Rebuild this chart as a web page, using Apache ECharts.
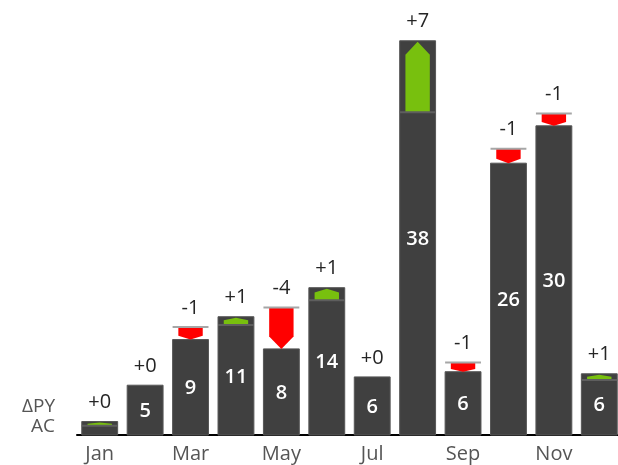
<!DOCTYPE html>
<html>
<head>
<meta charset="utf-8">
<script src="https://cdn.jsdelivr.net/npm/echarts@6/dist/echarts.min.js"></script>
<style>html,body{margin:0;padding:0;background:#fff;overflow:hidden;}#c{width:622px;height:465px;}</style>
</head>
<body>
<div id="c"></div>
<script>
const months = ['Jan','Feb','Mar','Apr','May','Jun','Jul','Aug','Sep','Oct','Nov','Dec'];
const acValues = [1.3, 4.8, 9.2, 11.4, 8.3, 14.2, 5.6, 38.0, 6.1, 26.2, 29.8, 5.9];
const pyValues = [0.9, 4.8, 10.4, 10.6, 12.3, 13.0, 5.6, 31.1, 7.0, 27.6, 31.0, 5.3];
const rowLabels = ['ΔPY', 'AC'];

const FONT = '"Open Sans", "Noto Sans", sans-serif';
const chart = echarts.init(document.getElementById('c'), null, {renderer: 'canvas'});

function deltaText(d) {
  const r = Math.round(d);
  return (r < 0 ? '' : '+') + r;
}

function renderItem(params, api) {
  const i = api.value(0), ac = api.value(1), py = api.value(2);
  const pBase = api.coord([i, 0]);
  const pAC = api.coord([i, ac]);
  const pPY = api.coord([i, py]);
  const band = api.size([1, 0])[0];
  const bw = band * 0.79;
  const aw = bw * 0.68;
  const cx = pBase[0];
  const yAC = pAC[1], yPY = pPY[1], yB = pBase[1];
  const children = [];
  children.push({
    type: 'rect',
    shape: {x: cx - bw / 2, y: yAC, width: bw, height: yB - yAC},
    style: {fill: '#404040', stroke: '#575757', lineWidth: 1}
  });
  const len = Math.abs(yPY - yAC);
  const h = Math.min(13, len * 0.3);
  if (ac - py > 0) {
    const top = yAC + 1;
    children.push({
      type: 'polygon',
      shape: {points: [[cx - aw / 2, yPY], [cx - aw / 2, top + h], [cx, top], [cx + aw / 2, top + h], [cx + aw / 2, yPY]]},
      style: {fill: '#78c00e'}
    });
    children.push({
      type: 'line',
      shape: {x1: cx - bw / 2, y1: yPY, x2: cx + bw / 2, y2: yPY},
      style: {stroke: '#5e5e5e', lineWidth: 2}
    });
  } else if (ac - py < 0) {
    children.push({
      type: 'polygon',
      shape: {points: [[cx - aw / 2, yPY], [cx + aw / 2, yPY], [cx + aw / 2, yAC - h], [cx, yAC], [cx - aw / 2, yAC - h]]},
      style: {fill: '#ff0000'}
    });
    children.push({
      type: 'line',
      shape: {x1: cx - bw / 2, y1: yPY, x2: cx + bw / 2, y2: yPY},
      style: {stroke: '#a6a6a6', lineWidth: 2}
    });
  }
  const topY = Math.min(yAC, yPY);
  children.push({
    type: 'text',
    style: {
      x: cx, y: topY - 19, text: deltaText(ac - py),
      fill: '#252525', font: '20px ' + FONT, align: 'center', verticalAlign: 'middle'
    }
  });
  if (ac >= 3) {
    children.push({
      type: 'text',
      style: {
        x: cx, y: (yAC + yB) / 2 + 1, text: String(Math.round(ac)),
        fill: '#ffffff', font: '600 20px ' + FONT, align: 'center', verticalAlign: 'middle'
      }
    });
  }
  return {type: 'group', children: children};
}

chart.setOption({
  animation: false,
  grid: {left: 77, right: 0, top: 20, bottom: 30},
  xAxis: {
    type: 'category',
    data: months,
    axisTick: {show: false},
    axisLine: {lineStyle: {color: '#000', width: 2}},
    axisLabel: {interval: 1, color: '#555555', fontSize: 20, fontFamily: FONT, margin: 9}
  },
  yAxis: {type: 'value', min: 0, max: 40, show: false, splitLine: {show: false}},
  graphic: [
    {type: 'text', right: 622 - 55, top: 397, style: {text: rowLabels[0], fill: '#555555', font: '19px ' + FONT, align: 'right'}},
    {type: 'text', right: 622 - 55, top: 417, style: {text: rowLabels[1], fill: '#555555', font: '19px ' + FONT, align: 'right'}}
  ],
  series: [{
    type: 'custom',
    renderItem: renderItem,
    clip: false,
    encode: {x: 0, y: [1, 2]},
    data: months.map((m, i) => [i, acValues[i], pyValues[i]])
  }]
});
</script>
</body>
</html>
